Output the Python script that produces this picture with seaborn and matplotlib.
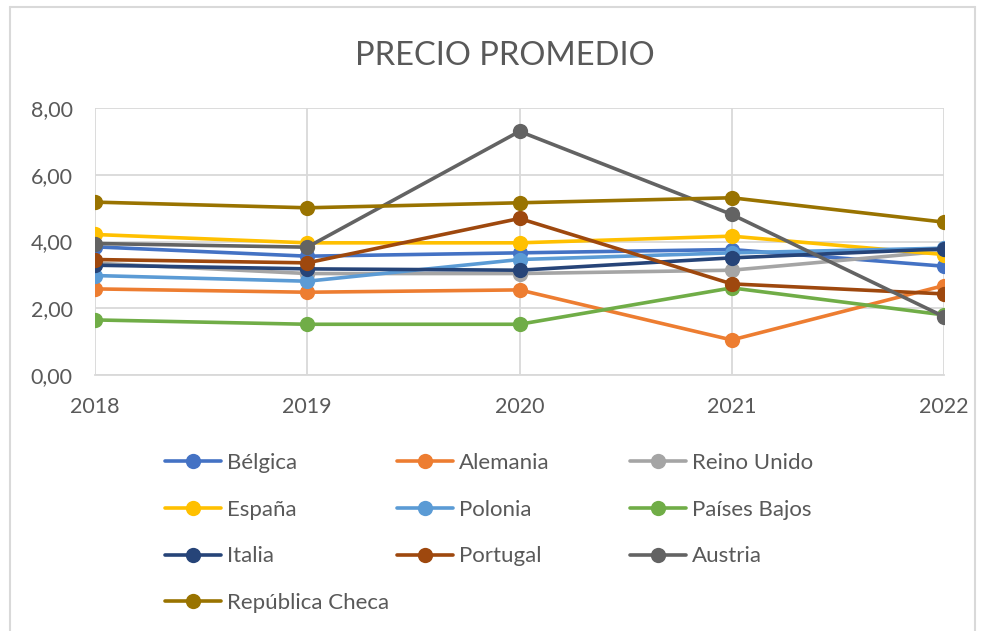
import matplotlib.pyplot as plt
import matplotlib.lines as mlines
import pandas as pd
import seaborn as sns
from matplotlib.ticker import FuncFormatter

years = [2018, 2019, 2020, 2021, 2022]
countries = ["Bélgica", "Alemania", "Reino Unido", "España", "Polonia",
             "Países Bajos", "Italia", "Portugal", "Austria", "República Checa"]
colors = ["#4472C4", "#ED7D31", "#A5A5A5", "#FFC000", "#5B9BD5",
          "#70AD47", "#264478", "#9E480E", "#636363", "#997300"]

belgica = [3.84, 3.56, 3.66, 3.76, 3.26]
alemania = [2.58, 2.48, 2.55, 1.05, 2.68]
reino_unido = [3.35, 3.04, 3.04, 3.14, 3.71]
espana = [4.21, 3.96, 3.96, 4.16, 3.61]
polonia = [2.98, 2.81, 3.46, 3.66, 3.80]
paises_bajos = [1.65, 1.52, 1.52, 2.61, 1.80]
italia = [3.29, 3.18, 3.14, 3.51, 3.78]
portugal = [3.46, 3.36, 4.69, 2.73, 2.43]
austria = [3.94, 3.83, 7.30, 4.81, 1.75]
rep_checa = [5.18, 5.01, 5.16, 5.31, 4.58]

series = [belgica, alemania, reino_unido, espana, polonia,
          paises_bajos, italia, portugal, austria, rep_checa]

rows = []
for name, vals in zip(countries, series):
    for y, v in zip(years, vals):
        rows.append({"year": y, "value": v, "country": name})
data = pd.DataFrame(rows)

sns.set_style("white")
plt.rcParams["font.family"] = ["Lato", "DejaVu Sans"]
grey = "#595959"

fig = plt.figure(figsize=(9.9, 6.31), dpi=100)
ax = fig.add_axes([95 / 990, 1 - 375 / 631, (944 - 95) / 990, (375 - 108) / 631])

sns.lineplot(
    data=data,
    x="year",
    y="value",
    hue="country",
    hue_order=countries,
    palette=colors,
    marker="o",
    markersize=11,
    markeredgewidth=0,
    linewidth=2.6,
    legend=False,
    ax=ax,
)

ax.set_xlim(2018, 2022)
ax.set_ylim(0, 8)
ax.set_xticks(years)
ax.set_yticks([0, 2, 4, 6, 8])
ax.yaxis.set_major_formatter(FuncFormatter(lambda v, p: f"{v:.2f}".replace(".", ",")))
ax.grid(True, color="#d9d9d9", linewidth=1.3)
ax.set_axisbelow(True)
for s in ax.spines.values():
    s.set_visible(False)
ax.spines["bottom"].set_visible(True)
ax.spines["bottom"].set_color("#d9d9d9")
ax.spines["bottom"].set_linewidth(1.3)
ax.tick_params(axis="both", length=0, labelsize=15.5, labelcolor=grey)
ax.tick_params(axis="x", pad=16)
ax.tick_params(axis="y", pad=16)
ax.set_xlabel("")
ax.set_ylabel("")

fig.text(505 / 990, 1 - 56 / 631, "PRECIO PROMEDIO", ha="center", va="center",
         fontsize=23.5, color=grey)

# legend: three equal-width columns, filled row by row like Excel
col_x = [165, 397, 630]
for c in range(3):
    idx = list(range(c, len(countries), 3))
    handles = [mlines.Line2D([], [], color=colors[i], marker="o", markersize=11,
                             markeredgewidth=0, linewidth=2.6) for i in idx]
    fig.legend(
        handles,
        [countries[i] for i in idx],
        loc="upper left",
        bbox_to_anchor=(col_x[c] / 990, 1 - 453 / 631),
        frameon=False,
        fontsize=16,
        labelcolor=grey,
        handlelength=2.5,
        handletextpad=0.27,
        labelspacing=1.2,
        borderaxespad=0,
        borderpad=0,
    )

# chart area border
fig.add_artist(mlines.Line2D([10 / 990, 10 / 990], [0, 1 - 7 / 631], color="#d9d9d9", linewidth=1.5))
fig.add_artist(mlines.Line2D([10 / 990, 975 / 990], [1 - 7 / 631, 1 - 7 / 631], color="#d9d9d9", linewidth=1.5))
fig.add_artist(mlines.Line2D([975 / 990, 975 / 990], [0, 1 - 7 / 631], color="#d9d9d9", linewidth=1.5))

fig.savefig("out.png", dpi=100)
